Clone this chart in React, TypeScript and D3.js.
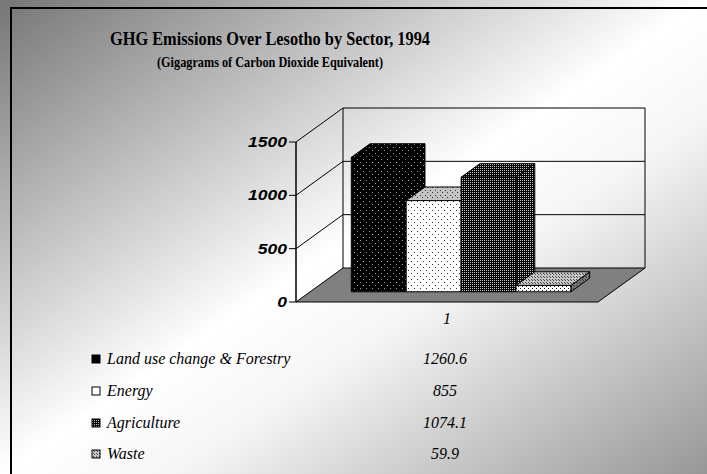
import React from "react";
import * as d3 from "d3";

// chart data
const categories = ["1"];
const seriesNames = ["Land use change & Forestry", "Energy", "Agriculture", "Waste"];
const seriesValues = [1260.6, 855, 1074.1, 59.9];
const yTicks = [0, 500, 1000, 1500];

const W = 707;
const H = 474;

// 3d box geometry
const x0 = 296;
const x1 = 598;
const yBase = 302;
const plotH = 160;
const dx = 47;
const dy = -34;
const barD0 = 0.3;
const barD1 = 0.7;

// fill ids per series: front, top, side
const faceFills = [
  ["url(#pLand)", "url(#pLand)", "url(#pLand)"],
  ["url(#pEnergy)", "url(#pEnergyTop)", "url(#pEnergyTop)"],
  ["url(#pAgri)", "url(#pAgri)", "url(#pAgri)"],
  ["url(#pWasteFront)", "url(#pWasteTop)", "url(#pWasteSide)"],
];
const legendFills = ["#000", "#fff", "url(#pAgri)", "url(#pWasteTop)"];

const serif = "'Liberation Serif', 'DejaVu Serif', serif";
const sans = "'Liberation Sans', Arial, sans-serif";

function DotPattern(props: { id: string; size: number; bg: string; dot: string; single?: boolean }) {
  const s = props.size;
  const h = Math.floor(s / 2);
  return (
    <pattern id={props.id} width={s} height={s} patternUnits="userSpaceOnUse">
      <rect width={s} height={s} fill={props.bg} />
      <rect x={0} y={0} width={1} height={1} fill={props.dot} />
      {!props.single && <rect x={h} y={h} width={1} height={1} fill={props.dot} />}
    </pattern>
  );
}

export default function App() {
  const y = d3.scaleLinear().domain([0, 1500]).range([0, plotH]);
  const xCat = d3
    .scaleBand<string>()
    .domain(categories)
    .range([x0, x1])
    .padding(0);
  const xSer = d3
    .scaleBand<string>()
    .domain(seriesNames)
    .range([xCat(categories[0])! + barD0 * dx, xCat(categories[0])! + xCat.bandwidth() + barD0 * dx])
    .paddingInner(0)
    .paddingOuter(0.75);

  const P = (x: number, v: number, d: number) => [x + d * dx, yBase - y(v) + d * dy];
  const poly = (pts: number[][]) => pts.map((p) => p.join(",")).join(" ");

  const bw = xSer.bandwidth();
  const legendRows = [364, 396, 428, 459];

  return (
    <svg width={W} height={H} style={{ position: "absolute", left: 0, top: 0 }}>
      <defs>
        <linearGradient id="bg" x1="0" y1="0" x2="1" y2="1">
          <stop offset="0" stopColor="#767676" />
          <stop offset="0.5" stopColor="#ffffff" />
          <stop offset="0.62" stopColor="#f6f6f6" />
          <stop offset="1" stopColor="#979797" />
        </linearGradient>
        <DotPattern id="pLand" size={6} bg="#000" dot="#a0a0a0" />
        <DotPattern id="pEnergy" size={6} bg="#fff" dot="#333" />
        <DotPattern id="pEnergyTop" size={5} bg="#c4c4c4" dot="#333" />
        <DotPattern id="pAgri" size={2} bg="#000" dot="#c8c8c8" single />
        <DotPattern id="pWasteFront" size={4} bg="#fff" dot="#222" />
        <DotPattern id="pWasteTop" size={3} bg="#c8c8c8" dot="#444" />
        <DotPattern id="pWasteSide" size={3} bg="#777" dot="#333" />
      </defs>

      <rect x={0} y={0} width={W} height={H} fill="url(#bg)" />
      <rect x={11} y={8} width={W + 20} height={H + 20} fill="none" stroke="#000" strokeWidth={2} />

      {/* titles */}
      <text x={270} y={45} textAnchor="middle" fontFamily={serif} fontWeight="bold" fontSize={19} textLength={320} lengthAdjust="spacingAndGlyphs">
        GHG Emissions Over Lesotho by Sector, 1994
      </text>
      <text x={270} y={67} textAnchor="middle" fontFamily={serif} fontWeight="bold" fontSize={14} textLength={226} lengthAdjust="spacingAndGlyphs">
        (Gigagrams of Carbon Dioxide Equivalent)
      </text>

      {/* floor */}
      <polygon
        points={poly([P(x0, 0, 0), P(x1, 0, 0), P(x1, 0, 1), P(x0, 0, 1)])}
        fill="#808080"
        stroke="#000"
        strokeWidth={1}
      />

      {/* gridlines: side wall + back wall */}
      {yTicks.filter((t) => t > 0).map((t) => (
        <polyline
          key={t}
          points={poly([P(x0, t, 0), P(x0, t, 1), P(x1, t, 1)])}
          fill="none"
          stroke="#000"
          strokeWidth={1}
        />
      ))}
      <line x1={P(x0, 0, 1)[0]} y1={P(x0, 0, 1)[1]} x2={P(x0, 1500, 1)[0]} y2={P(x0, 1500, 1)[1]} stroke="#000" />
      <line x1={P(x1, 0, 1)[0]} y1={P(x1, 0, 1)[1]} x2={P(x1, 1500, 1)[0]} y2={P(x1, 1500, 1)[1]} stroke="#000" />

      {/* value axis */}
      <line x1={x0} y1={yBase} x2={x0} y2={yBase - plotH} stroke="#000" strokeWidth={1.5} />
      {yTicks.map((t) => (
        <g key={t}>
          <line x1={x0 - 7} x2={x0} y1={yBase - y(t)} y2={yBase - y(t)} stroke="#000" />
          <text
            x={287}
            y={yBase - y(t) + 5}
            textAnchor="end"
            fontFamily={sans}
            fontWeight="bold"
            fontStyle="italic"
            fontSize={14}
            textLength={String(t).length * 9.75}
            lengthAdjust="spacingAndGlyphs"
          >
            {t}
          </text>
        </g>
      ))}

      {/* bars */}
      {seriesNames.map((s, i) => {
        const v = seriesValues[i];
        const bx = xSer(s)! - barD0 * dx;
        const front = [P(bx, 0, barD0), P(bx + bw, 0, barD0), P(bx + bw, v, barD0), P(bx, v, barD0)];
        const top = [P(bx, v, barD0), P(bx + bw, v, barD0), P(bx + bw, v, barD1), P(bx, v, barD1)];
        const side = [P(bx + bw, 0, barD0), P(bx + bw, 0, barD1), P(bx + bw, v, barD1), P(bx + bw, v, barD0)];
        return (
          <g key={s} stroke="#000" strokeWidth={1} strokeLinejoin="round">
            <polygon points={poly(side)} fill={faceFills[i][2]} />
            <polygon points={poly(top)} fill={faceFills[i][1]} />
            <polygon points={poly(front)} fill={faceFills[i][0]} />
          </g>
        );
      })}

      {/* category label */}
      {categories.map((c) => (
        <text key={c} x={xCat(c)! + xCat.bandwidth() / 2} y={324} textAnchor="middle" fontFamily={serif} fontStyle="italic" fontSize={16}>
          {c}
        </text>
      ))}

      {/* data table legend */}
      {seriesNames.map((s, i) => (
        <g key={s}>
          <rect x={92} y={legendRows[i] - 9} width={8} height={8} fill={legendFills[i]} stroke="#000" strokeWidth={1} />
          <text x={107} y={legendRows[i]} fontFamily={serif} fontStyle="italic" fontSize={16}>
            {s}
          </text>
          <text x={445} y={legendRows[i]} textAnchor="middle" fontFamily={serif} fontStyle="italic" fontSize={16}>
            {seriesValues[i]}
          </text>
        </g>
      ))}
    </svg>
  );
}
